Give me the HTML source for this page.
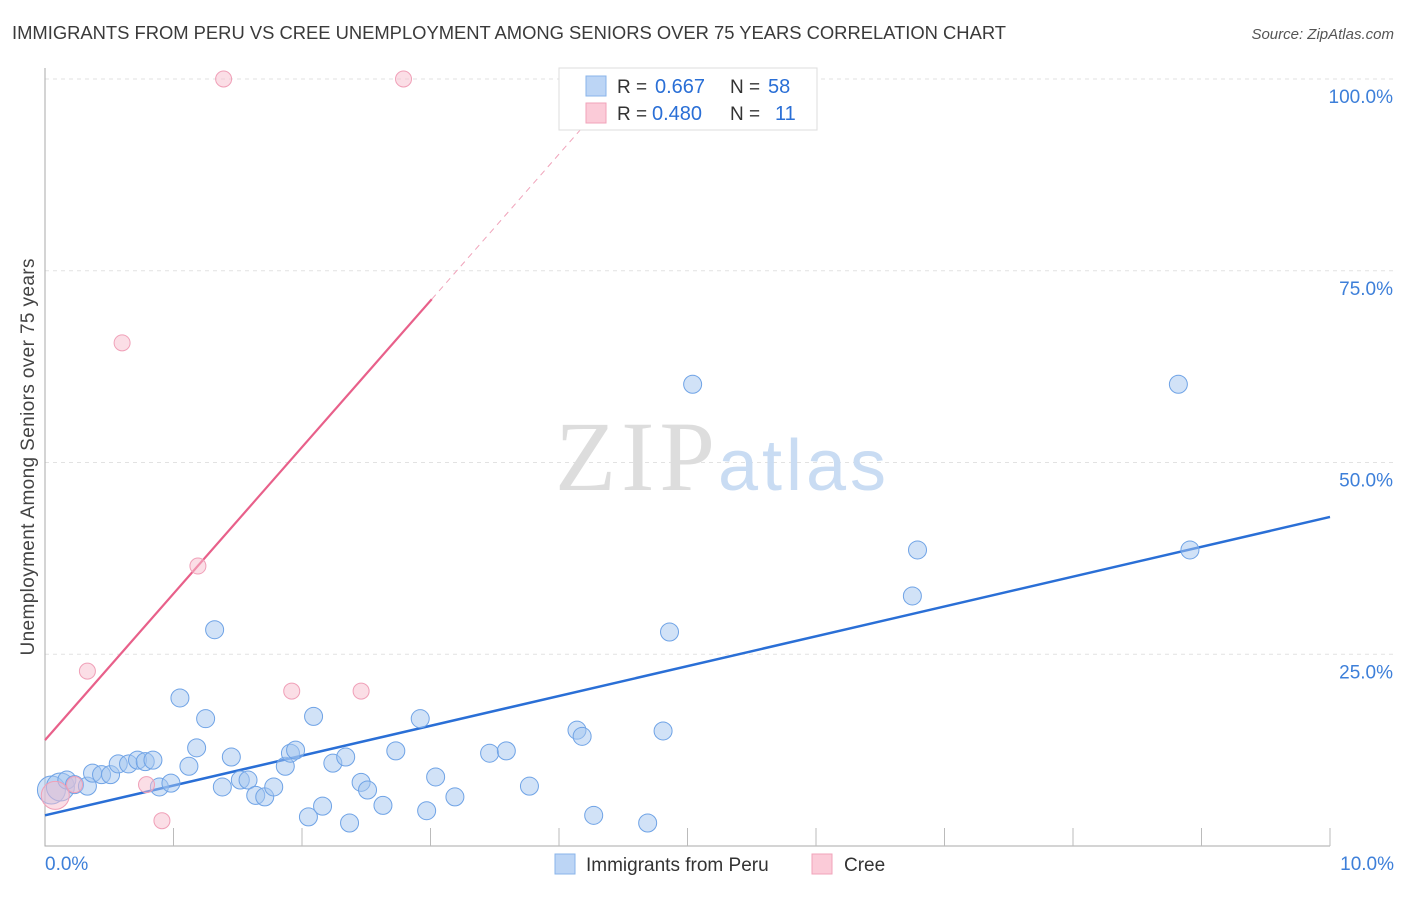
<!DOCTYPE html>
<html><head><meta charset="utf-8"><style>
body{margin:0;background:#fff;font-family:"Liberation Sans",sans-serif}
svg text{font-family:"Liberation Sans",sans-serif}
</style></head><body>
<svg width="1406" height="892" xmlns="http://www.w3.org/2000/svg">
<text x="12" y="39" font-size="18.4" fill="#3a3a3a" textLength="994">IMMIGRANTS FROM PERU VS CREE UNEMPLOYMENT AMONG SENIORS OVER 75 YEARS CORRELATION CHART</text>
<text x="1394" y="39" font-size="15" fill="#555" font-style="italic" text-anchor="end">Source: ZipAtlas.com</text>
<text x="34" y="457" font-size="19" fill="#444" text-anchor="middle" transform="rotate(-90 34 457)" textLength="397">Unemployment Among Seniors over 75 years</text>
<g id="grid"></g>
<text x="555" y="490" font-size="100" fill="#ddd" textLength="160" font-family="Liberation Serif" style="font-family:'Liberation Serif',serif">ZIP</text>
<text x="718" y="490" font-size="72" fill="#c9dcf3" textLength="168">atlas</text>
<g id="lines"></g>
<g id="points"></g>
<g>
<rect x="559" y="68" width="258" height="62" fill="#fff" stroke="#ddd"/>
<rect x="586" y="76" width="20" height="20" fill="#bcd5f5" stroke="#8ab4ea"/>
<rect x="586" y="103" width="20" height="20" fill="#fbcbd8" stroke="#f0a3ba"/>
<text x="617" y="93" font-size="19" fill="#333">R =</text>
<text x="655" y="93" font-size="20" fill="#2a6fd6">0.667</text>
<text x="730" y="93" font-size="19" fill="#333">N =</text>
<text x="768" y="93" font-size="20" fill="#2a6fd6">58</text>
<text x="617" y="120" font-size="19" fill="#333">R =</text>
<text x="652" y="120" font-size="20" fill="#2a6fd6">0.480</text>
<text x="730" y="120" font-size="19" fill="#333">N =</text>
<text x="775" y="120" font-size="20" fill="#2a6fd6">11</text>
</g>
<g>
<rect x="555" y="854" width="20" height="20" fill="#bcd5f5" stroke="#8ab4ea"/>
<text x="586" y="871" font-size="19" fill="#333">Immigrants from Peru</text>
<rect x="812" y="854" width="20" height="20" fill="#fbcbd8" stroke="#f0a3ba"/>
<text x="844" y="871" font-size="19" fill="#333">Cree</text>
</g>
</svg>
<script>
const yTicks=[25,50,75,100];
const yTickLabels=["25.0%","50.0%","75.0%","100.0%"];
const xTickLabels=["0.0%","10.0%"];
const peruX=[0.05,0.12,0.17,0.23,0.33,0.37,0.44,0.51,0.57,0.65,0.72,0.78,0.84,0.89,0.98,1.05,1.12,1.18,1.25,1.32,1.38,1.45,1.52,1.58,1.64,1.71,1.78,1.87,1.91,1.95,2.05,2.09,2.16,2.24,2.34,2.37,2.46,2.51,2.63,2.92,2.73,2.97,3.04,3.19,3.46,3.59,3.77,4.14,4.18,4.27,4.69,4.81,4.86,5.04,6.75,6.79,8.82,8.91];
const peruY=[7.3,7.7,8.6,8.0,7.8,9.5,9.3,9.3,10.7,10.7,11.2,11.0,11.2,7.7,8.2,19.3,10.4,12.8,16.6,28.2,7.7,11.6,8.6,8.6,6.6,6.4,7.7,10.4,12.1,12.5,3.8,16.9,5.2,10.8,11.6,3.0,8.3,7.3,5.3,16.6,12.4,4.6,9.0,6.4,12.1,12.4,7.8,15.1,14.3,4.0,3.0,15.0,27.9,60.2,32.6,38.6,60.2,38.6];
const creeX=[0.08,0.23,0.33,0.60,0.79,0.91,1.19,1.39,1.92,2.46,2.79];
const creeY=[6.6,8.0,22.8,65.6,8.0,3.3,36.5,100,20.2,20.2,100];
const peruLine=[4.0,42.9];
const creeLine=[13.8,19.1];
const X0=45,X1=1330,Y0=846,Y100=79;
const sx=v=>X0+(X1-X0)*v/10, sy=v=>Y0-(Y0-Y100)*v/100;
const NS="http://www.w3.org/2000/svg";
function mk(t,a,p){const e=document.createElementNS(NS,t);for(const k in a)e.setAttribute(k,a[k]);p.appendChild(e);return e;}
const grid=document.getElementById('grid');
yTicks.forEach((t,i)=>{
 const l=mk('line',{x1:X0,x2:1395,y1:sy(t),y2:sy(t),stroke:'#e2e2e2','stroke-dasharray':'4 4'},grid);
 
 
 const tx=mk('text',{x:1393,y:sy(t)+24,'font-size':19,fill:'#3d7fd9','text-anchor':'end'},grid);tx.textContent=yTickLabels[i];
 
 
});
const ax=mk('path',{d:`M${X0} 68V${Y0}H${X1}`,stroke:'#aaa',fill:'none'},grid);


for(let i=1;i<=10;i++){const t=mk('line',{x1:sx(i),x2:sx(i),y1:Y0,y2:828,stroke:'#bbb'},grid);
 
 }
[[0,'start',45],[10,'end',1394]].forEach((d,i)=>{const tx=mk('text',{x:d[2],y:870,'font-size':19,fill:'#3d7fd9','text-anchor':d[1]},grid);tx.textContent=xTickLabels[i];
 
 });
const lines=document.getElementById('lines');
const bl=mk('line',{x1:sx(0),y1:sy(peruLine[0]),x2:sx(10),y2:sy(peruLine[1]),stroke:'#2a6fd6','stroke-width':2.5},lines);


const xe=3.01;
const pl=mk('line',{x1:sx(0),y1:sy(creeLine[0]),x2:sx(xe),y2:sy(creeLine[0]+creeLine[1]*xe),stroke:'#e8608a','stroke-width':2.2},lines);


const xd=(100-creeLine[0])/creeLine[1];
const pd=mk('line',{x1:sx(xe),y1:sy(creeLine[0]+creeLine[1]*xe),x2:sx(xd),y2:sy(100),stroke:'#f0a3ba','stroke-width':1,'stroke-dasharray':'6 5'},lines);


const pts=document.getElementById('points');
peruX.forEach((x,i)=>{const c=mk('circle',{cx:sx(x),cy:sy(peruY[i]),r:i<2?14:9,fill:'rgba(164,198,240,0.5)',stroke:'#6fa3e6','stroke-width':1},pts);
 
 });
creeX.forEach((x,i)=>{const c=mk('circle',{cx:sx(x),cy:sy(creeY[i]),r:i==0?14:8,fill:'rgba(248,190,206,0.5)',stroke:'#f0a0b8','stroke-width':1},pts);
 
 });
</script>
</body></html>
